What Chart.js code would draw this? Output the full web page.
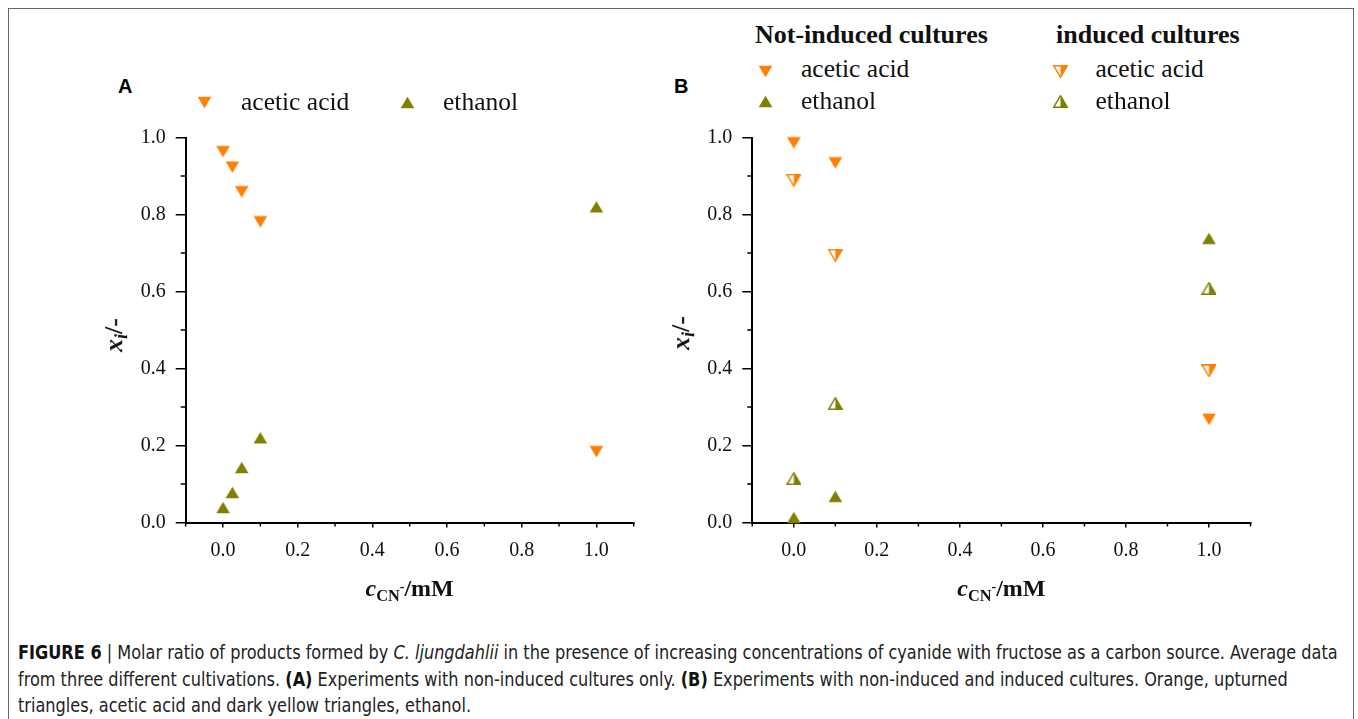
<!DOCTYPE html>
<html>
<head>
<meta charset="utf-8">
<script src="https://cdn.jsdelivr.net/npm/chart.js@4.4.0/dist/chart.umd.min.js"></script>
<style>
html,body{margin:0;padding:0;background:#fff;}
body{width:1358px;height:719px;position:relative;overflow:hidden;font-family:'Liberation Serif','Times New Roman',serif;color:#111;}
#frame{position:absolute;left:8px;top:8px;width:1346px;height:740px;border:1px solid #666;box-sizing:border-box;}
.abs{position:absolute;white-space:nowrap;line-height:1;}
.panel{font-family:'Liberation Sans',Arial,sans-serif;font-weight:bold;font-size:20px;color:#000;}
.leg{font-size:25.5px;color:#111;}
.head{font-size:26px;font-weight:bold;color:#111;}
.xt{font-size:24px;font-weight:bold;color:#111;transform:translateX(-50%);}
.xt sub{font-size:0.68em;vertical-align:-0.32em;}
.xt sub sup{font-size:0.85em;vertical-align:0.7em;}
.yt{font-size:26px;font-weight:bold;color:#111;transform:translate(-50%,-50%) rotate(-90deg);}
.yt sub{font-size:0.7em;vertical-align:-0.3em;}
canvas.chart{position:absolute;}
img.mk{position:absolute;}
.cap{position:absolute;left:18px;white-space:nowrap;line-height:1;font-family:'Liberation Sans Narrow','DejaVu Sans Condensed','Liberation Sans',sans-serif;font-size:19px;color:#222;transform-origin:0 0;}
.cap b{color:#111;}
</style>
</head>
<body>
<div id="frame"></div>

<canvas id="chartA" class="chart" width="560" height="500" style="left:100px;top:112px;width:560px;height:500px;"></canvas>
<canvas id="chartB" class="chart" width="600" height="500" style="left:680px;top:112px;width:600px;height:500px;"></canvas>

<div class="abs panel" style="left:118px;top:76px;">A</div>
<div class="abs panel" style="left:674px;top:76px;">B</div>

<div class="abs leg" style="left:241px;top:88.6px;">acetic acid</div>
<div class="abs leg" style="left:443px;top:88.6px;">ethanol</div>

<div class="abs head" style="left:755px;top:21.5px;">Not-induced cultures</div>
<div class="abs head" style="left:1056px;top:21.5px;">induced cultures</div>
<div class="abs leg" style="left:801px;top:55.6px;">acetic acid</div>
<div class="abs leg" style="left:801px;top:87.6px;">ethanol</div>
<div class="abs leg" style="left:1095.5px;top:55.6px;">acetic acid</div>
<div class="abs leg" style="left:1095.5px;top:87.6px;">ethanol</div>

<div class="abs xt" style="left:409.7px;top:576px;"><i>c</i><sub>CN<sup>-</sup></sub>/mM</div>
<div class="abs xt" style="left:1001.4px;top:576px;"><i>c</i><sub>CN<sup>-</sup></sub>/mM</div>
<div class="abs yt" style="left:115.5px;top:335px;"><i>x</i><sub><i>i</i></sub>/-</div>
<div class="abs yt" style="left:683px;top:333px;"><i>x</i><sub><i>i</i></sub>/-</div>

<div id="cap1" class="cap" style="top:643px;"><b>FIGURE 6</b> | Molar ratio of products formed by <i>C. ljungdahlii</i> in the presence of increasing concentrations of cyanide with fructose as a carbon source. Average data</div>
<div id="cap2" class="cap" style="top:670px;">from three different cultivations. <b>(A)</b> Experiments with non-induced cultures only. <b>(B)</b> Experiments with non-induced and induced cultures. Orange, upturned</div>
<div id="cap3" class="cap" style="top:696px;">triangles, acetic acid and dark yellow triangles, ethanol.</div>

<script>
// ---------- data ----------
const xTickLabels = ['0.0', '0.2', '0.4', '0.6', '0.8', '1.0'];
const yTickLabels = ['0.0', '0.2', '0.4', '0.6', '0.8', '1.0'];

// Panel A: non-induced cultures only
const cyanideA = [0, 0.025, 0.05, 0.1, 1.0];
const aceticA  = [0.963, 0.923, 0.859, 0.781, 0.184];
const ethanolA = [0.039, 0.078, 0.143, 0.220, 0.820];

// Panel B: non-induced and induced cultures
const cyanideB = [0, 0.1, 1.0];
const aceticNotInducedB  = [0.986, 0.934, 0.268];
const ethanolNotInducedB = [0.013, 0.068, 0.738];
const aceticInducedB     = [0.889, 0.694, 0.394];
const ethanolInducedB    = [0.114, 0.309, 0.608];

const ORANGE = '#ff7f00';
const OLIVE  = '#808000';

// ---------- marker images ----------
function marker(dir, color, half) {
  const c = document.createElement('canvas');
  c.width = 15; c.height = 13;
  const g = c.getContext('2d');
  const L = 0.7, R = 14.3, T = 0.7, B = 12.3, M = 7.5;
  const pts = dir === 'down' ? [[L, T], [R, T], [M, B]] : [[M, T], [R, B], [L, B]];
  const poly = (p) => { g.beginPath(); g.moveTo(p[0][0], p[0][1]); for (let i = 1; i < p.length; i++) g.lineTo(p[i][0], p[i][1]); g.closePath(); };
  if (!half) {
    poly(pts); g.fillStyle = color; g.fill();
  } else {
    poly(pts); g.fillStyle = '#fff'; g.fill();
    const rh = dir === 'down' ? [[M, T], [R, T], [M, B]] : [[M, T], [R, B], [M, B]];
    poly(rh); g.fillStyle = color; g.fill();
    poly(pts); g.strokeStyle = color; g.lineWidth = 1.4; g.lineJoin = 'miter'; g.stroke();
  }
  return c;
}
const mkAcetic = marker('down', ORANGE, false);
const mkEthanol = marker('up', OLIVE, false);
const mkAceticInd = marker('down', ORANGE, true);
const mkEthanolInd = marker('up', OLIVE, true);

function legendMarker(cv, cx, cy) {
  const img = document.createElement('img');
  img.className = 'mk';
  img.src = cv.toDataURL();
  img.style.left = (cx - cv.width / 2) + 'px';
  img.style.top = (cy - cv.height / 2) + 'px';
  document.body.appendChild(img);
}
legendMarker(mkAcetic, 204, 102);
legendMarker(mkEthanol, 407, 102);
legendMarker(mkAcetic, 765, 71);
legendMarker(mkEthanol, 765, 101.7);
legendMarker(mkAceticInd, 1060, 71);
legendMarker(mkEthanolInd, 1060, 101.7);

// ---------- chart helpers ----------
const isMajor = v => Math.abs(v * 5 - Math.round(v * 5)) < 1e-6 && v > -1e-6 && v < 1 + 1e-6;
const tickLabel = labels => v => {
  const l = labels.find(s => Math.abs(parseFloat(s) - v) < 1e-6);
  return l === undefined ? '' : l;
};
const pts = (xs, ys) => xs.map((x, i) => ({ x: x, y: ys[i] }));

const minorTicks = {
  id: 'minorTicks',
  afterDraw(chart) {
    const ctx = chart.ctx;
    const xs = chart.scales.x, ys = chart.scales.y;
    ctx.save();
    ctx.strokeStyle = '#000';
    ctx.lineWidth = 1.5;
    ctx.beginPath();
    xs.ticks.forEach(t => {
      if (!isMajor(t.value)) {
        const p = xs.getPixelForValue(t.value);
        ctx.moveTo(p, xs.top); ctx.lineTo(p, xs.top + 4);
      }
    });
    ys.ticks.forEach(t => {
      if (!isMajor(t.value)) {
        const p = ys.getPixelForValue(t.value);
        ctx.moveTo(ys.right - 5, p); ctx.lineTo(ys.right, p);
      }
    });
    ctx.stroke();
    ctx.restore();
  }
};

const tickFont = { family: "'Liberation Serif','Times New Roman',serif", size: 20 };

function makeOptions(padLeft, padRight) {
  return {
    responsive: false,
    animation: false,
    devicePixelRatio: 1,
    layout: { padding: { left: padLeft, right: padRight, top: 25.5, bottom: 49.5 } },
    plugins: { legend: { display: false }, tooltip: { enabled: false } },
    scales: {
      x: {
        type: 'linear', position: 'bottom', min: -0.1, max: 1.1,
        afterFit(s) { s.height = 40; },
        ticks: { stepSize: 0.1, autoSkip: false, maxRotation: 0, padding: 11, color: '#111', font: tickFont, callback: tickLabel(xTickLabels) },
        grid: { display: true, drawOnChartArea: false, drawTicks: true, tickLength: 5, lineWidth: 1.5,
                tickColor: c => isMajor(c.tick.value) ? '#000' : 'rgba(0,0,0,0)' },
        border: { display: true, color: '#000', width: 2 }
      },
      y: {
        type: 'linear', position: 'left', min: 0, max: 1,
        afterFit(s) { s.width = 60; },
        ticks: { stepSize: 0.1, autoSkip: false, padding: 10, color: '#111', font: tickFont, callback: tickLabel(yTickLabels) },
        grid: { display: true, drawOnChartArea: false, drawTicks: true, tickLength: 10, lineWidth: 1.5,
                tickColor: c => isMajor(c.tick.value) ? '#000' : 'rgba(0,0,0,0)' },
        border: { display: true, color: '#000', width: 2 }
      }
    }
  };
}

function ds(label, data, style) {
  return { label: label, data: data, pointStyle: style, pointRadius: 7, showLine: false, clip: false };
}

new Chart(document.getElementById('chartA'), {
  type: 'scatter',
  data: {
    datasets: [
      ds('acetic acid', pts(cyanideA, aceticA), mkAcetic),
      ds('ethanol', pts(cyanideA, ethanolA), mkEthanol)
    ]
  },
  options: makeOptions(25.7, 26.3),
  plugins: [minorTicks]
});

new Chart(document.getElementById('chartB'), {
  type: 'scatter',
  data: {
    datasets: [
      ds('acetic acid (not-induced)', pts(cyanideB, aceticNotInducedB), mkAcetic),
      ds('ethanol (not-induced)', pts(cyanideB, ethanolNotInducedB), mkEthanol),
      ds('acetic acid (induced)', pts(cyanideB, aceticInducedB), mkAceticInd),
      ds('ethanol (induced)', pts(cyanideB, ethanolInducedB), mkEthanolInd)
    ]
  },
  options: makeOptions(12.3, 29.5),
  plugins: [minorTicks]
});

// ---------- caption fit ----------
function fitCaption() {
  const c1 = document.getElementById('cap1');
  const w = c1.scrollWidth;
  if (!w) return;
  const s = 1320 / w;
  ['cap1', 'cap2', 'cap3'].forEach(id => {
    document.getElementById(id).style.transform = 'scaleX(' + s + ')';
  });
}
fitCaption();
if (document.fonts && document.fonts.ready) document.fonts.ready.then(fitCaption);
</script>
</body>
</html>
